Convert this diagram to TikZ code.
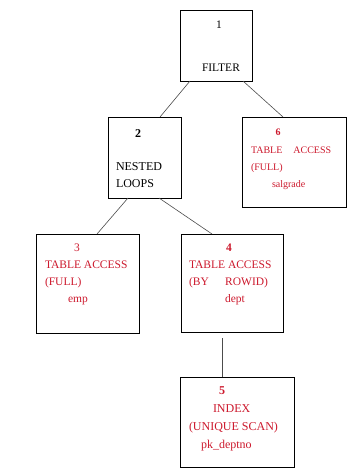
\documentclass[tikz,border=0pt]{standalone}
\usepackage{fontspec}
\setmainfont{Liberation Serif}
\usetikzlibrary{positioning}
\definecolor{planred}{RGB}{205,25,45}

\begin{document}
\begin{tikzpicture}[
  x=1pt, y=-1pt,
  box/.style={rectangle, draw=black, line width=0.9pt, inner sep=0pt, outer sep=0pt},
  txt/.style={anchor=north west, inner sep=0pt, outer sep=0pt, align=left},
  op/.style={txt, text=planred},
  link/.style={draw=black!70, line width=0.6pt}
]
\path[fill=white, use as bounding box] (0,0) rectangle (353,470);
% --- Boxes ---
\node[box, minimum width=72pt,  minimum height=71pt] (b1) at (216,45.5)  {};
\node[box, minimum width=73pt,  minimum height=81pt] (b2) at (144.5,157.5) {};
\node[box, minimum width=104pt, minimum height=90pt] (b6) at (294,162)   {};
\node[box, minimum width=103pt, minimum height=99pt] (b3) at (87.5,283.5) {};
\node[box, minimum width=102pt, minimum height=98pt] (b4) at (232,283)   {};
\node[box, minimum width=114pt, minimum height=90pt] (b5) at (237,422)   {};
% --- Texts ---
\node[txt, font=\fontsize{11.5}{17}\selectfont] (t1) at (202,21.2)
  {\hspace*{14pt}1\\[26pt]FILTER};
\node[txt, font=\fontsize{12}{17}\selectfont] (t2) at (116,130)
  {\hspace*{19pt}\textbf{2}\\[16pt]NESTED\\LOOPS};
\node[op, font=\fontsize{10}{17.3}\selectfont] (t6) at (251,129.2)
  {\hspace*{24.5pt}\textbf{6}\\TABLE\hspace{8.5pt} ACCESS\\(FULL)\\\hspace*{21pt}salgrade};
\node[op, font=\fontsize{11.5}{17}\selectfont] (t3) at (45,244.2)
  {\hspace*{29pt}3\\TABLE ACCESS\\(FULL)\\\hspace*{23pt}emp};
\node[op, font=\fontsize{11.5}{17}\selectfont] (t4) at (189,244.2)
  {\hspace*{37pt}\textbf{4}\\TABLE ACCESS\\(BY\hspace{13.5pt} ROWID)\\\hspace*{36pt}dept};
\node[op, font=\fontsize{12}{18}\selectfont] (t5) at (189,387)
  {\hspace*{30pt}\textbf{5}\\\hspace*{24pt}INDEX\\(UNIQUE SCAN)\\\hspace*{12pt}pk\_deptno};
% --- Links ---
\draw[link] ([xshift=10pt]b1.south west) -- ([xshift=-21pt]b2.north east);
\draw[link] ([xshift=-9pt]b1.south east) -- ([xshift=41pt]b6.north west);
\draw[link] ([xshift=20pt]b2.south west) -- ([xshift=-42pt]b3.north east);
\draw[link] ([xshift=-22pt]b2.south east) -- ([xshift=31pt]b4.north west);
\draw[link] ([xshift=41pt,yshift=-6pt]b4.south west) -- ([xshift=42pt]b5.north west);
\end{tikzpicture}
\end{document}
